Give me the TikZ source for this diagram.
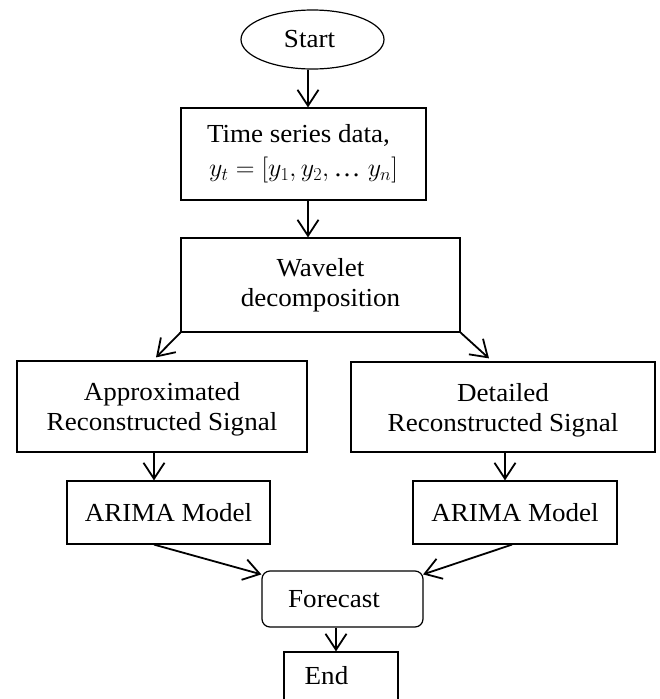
\RequirePackage{fix-cm}
\documentclass[tikz,border=0pt]{standalone}
\usepackage{fontspec}
\setmainfont{Liberation Serif}[FakeStretch=1.04]
\usetikzlibrary{arrows.meta,shapes.geometric,calc}
\begin{document}
\begin{tikzpicture}[x=1pt,y=-1pt,
  box/.style={draw, line width=1.2pt, rectangle, inner sep=0pt, align=center,
    font=\fontsize{26}{30}\selectfont},
  arr/.style={line width=1.8pt, -{Straight Barb[length=16pt,width=21pt]}}]
\useasboundingbox (0,0) rectangle (659,699);
\clip (0,0) rectangle (659,699);
\node[box, ellipse, minimum width=143pt, minimum height=59pt] (start) at (312.5,39.5) {Start\hspace*{6pt}};
\node[box, minimum width=245pt, minimum height=92pt] (data) at (303.5,154)
  {Time series data,\hspace*{10pt}\\[4pt] $y_t=[y_1,y_2,\mbox{…}\;y_n]$};
\node[box, minimum width=279pt, minimum height=94pt] (wavelet) at (320.5,285) {Wavelet\\decomposition};
\node[box, minimum width=290pt, minimum height=91pt] (approx) at (162,406.5) {\rule{0pt}{24pt}Approximated\\Reconstructed Signal};
\node[box, minimum width=304pt, minimum height=90pt] (detailed) at (503,407) {\rule{0pt}{24pt}Detailed\\Reconstructed Signal};
\node[box, minimum width=203pt, minimum height=63pt] (arimaL) at (168.5,512.5) {ARIMA Model};
\node[box, minimum width=204pt, minimum height=63pt] (arimaR) at (515,512.5) {ARIMA Model};
\node[box, rounded corners=8pt, minimum width=161pt, minimum height=56pt] (forecast) at (342.5,599) {Forecast\hspace*{17pt}};
\node[box, minimum width=114pt, minimum height=48pt] (end) at (341,676) {End\hspace*{29pt}};
\draw[arr] ([xshift=-4.5pt]start.south) -- ([xshift=-4.5pt]start.south |- data.north);
\draw[arr] ([xshift=4.5pt]data.south) -- ([xshift=4.5pt]data.south |- wavelet.north);
\draw[arr] (wavelet.south west) -- ($(approx.north)+(-6,-3)$);
\draw[arr] (wavelet.south east) -- ($(detailed.north)+(-14,-3)$);
\draw[arr] ([xshift=-8pt]approx.south) -- ([xshift=-8pt]approx.south |- arimaL.north);
\draw[arr] ([xshift=2pt]detailed.south) -- ([xshift=2pt]detailed.south |- arimaR.north);
\draw[arr] ([xshift=-14.5pt]arimaL.south) -- ($(forecast.north west)+(0,4)$);
\draw[arr] ([xshift=-3pt]arimaR.south) -- ($(forecast.north east)+(-0.5,4)$);
\draw[arr] ([xshift=-6.5pt]forecast.south) -- ([xshift=-6.5pt]forecast.south |- end.north);
\end{tikzpicture}
\end{document}
